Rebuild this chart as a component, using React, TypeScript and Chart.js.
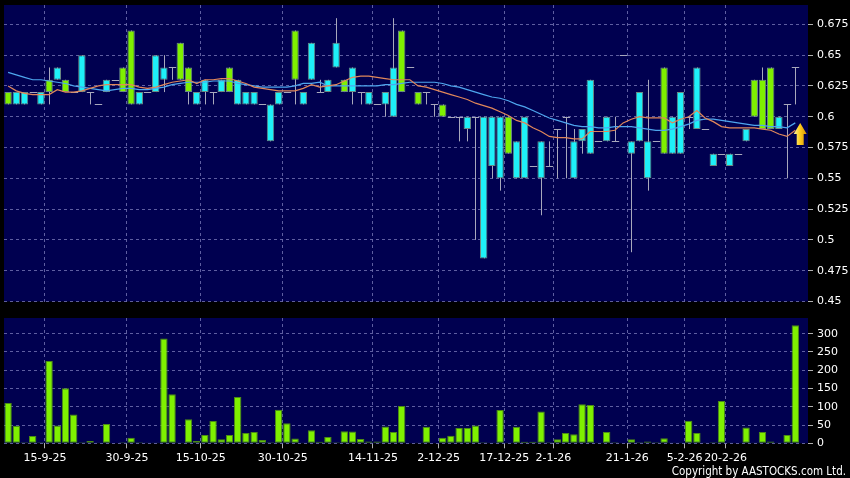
import React, { useEffect, useRef } from "react";
import { Chart, registerables } from "chart.js";

Chart.register(...registerables);

// ---------- data ----------
const opens = [
  0.61, 0.62, 0.62, 0.62, 0.62, 0.62, 0.64, 0.62, 0.62, 0.65,
  0.62, 0.61, 0.63, 0.63, 0.62, 0.61, 0.62, 0.62, 0.65, 0.64,
  0.64, 0.63, 0.62, 0.62, 0.63, 0.62, 0.63, 0.62, 0.63, 0.62,
  0.62, 0.61, 0.61, 0.62, 0.62, 0.63, 0.62, 0.66, 0.62, 0.63,
  0.66, 0.62, 0.64, 0.62, 0.62, 0.61, 0.62, 0.64, 0.62, 0.64,
  0.61, 0.62, 0.61, 0.60, 0.60, 0.60, 0.60, 0.60, 0.60, 0.60,
  0.60, 0.57, 0.58, 0.60, 0.56, 0.58, 0.56, 0.59, 0.60, 0.58,
  0.59, 0.63, 0.58, 0.60, 0.58, 0.65, 0.58, 0.62, 0.58, 0.58,
  0.57, 0.60, 0.62, 0.60, 0.64, 0.59, 0.57, 0.57, 0.57, 0.57,
  0.59, 0.60, 0.59, 0.59, 0.60, 0.61, 0.64,
];
const highs = [
  0.62, 0.62, 0.62, 0.62, 0.62, 0.64, 0.64, 0.63, 0.62, 0.65,
  0.62, 0.61, 0.63, 0.63, 0.64, 0.67, 0.62, 0.62, 0.65, 0.65,
  0.64, 0.66, 0.64, 0.62, 0.63, 0.62, 0.63, 0.64, 0.63, 0.62,
  0.62, 0.61, 0.61, 0.62, 0.62, 0.67, 0.62, 0.66, 0.63, 0.63,
  0.68, 0.63, 0.64, 0.62, 0.62, 0.61, 0.62, 0.68, 0.67, 0.64,
  0.62, 0.62, 0.61, 0.61, 0.60, 0.60, 0.60, 0.60, 0.60, 0.60,
  0.60, 0.60, 0.58, 0.60, 0.56, 0.58, 0.58, 0.59, 0.60, 0.59,
  0.59, 0.63, 0.58, 0.60, 0.60, 0.65, 0.58, 0.62, 0.63, 0.58,
  0.64, 0.60, 0.62, 0.60, 0.64, 0.59, 0.57, 0.57, 0.57, 0.57,
  0.59, 0.63, 0.64, 0.64, 0.60, 0.61, 0.64,
];
const lows = [
  0.61, 0.61, 0.61, 0.62, 0.61, 0.61, 0.63, 0.62, 0.62, 0.62,
  0.61, 0.61, 0.62, 0.63, 0.62, 0.61, 0.61, 0.62, 0.62, 0.62,
  0.63, 0.63, 0.61, 0.61, 0.61, 0.61, 0.62, 0.62, 0.61, 0.61,
  0.61, 0.61, 0.58, 0.61, 0.62, 0.61, 0.61, 0.63, 0.62, 0.62,
  0.64, 0.62, 0.61, 0.61, 0.61, 0.61, 0.60, 0.60, 0.62, 0.64,
  0.61, 0.61, 0.60, 0.60, 0.60, 0.58, 0.58, 0.50, 0.485, 0.55,
  0.54, 0.57, 0.55, 0.55, 0.56, 0.52, 0.56, 0.55, 0.55, 0.55,
  0.57, 0.57, 0.58, 0.58, 0.58, 0.65, 0.49, 0.58, 0.54, 0.58,
  0.57, 0.57, 0.57, 0.59, 0.59, 0.59, 0.56, 0.57, 0.56, 0.57,
  0.58, 0.60, 0.59, 0.59, 0.59, 0.55, 0.61,
];
const closes = [
  0.62, 0.61, 0.61, 0.62, 0.61, 0.63, 0.63, 0.63, 0.62, 0.62,
  0.62, 0.61, 0.62, 0.63, 0.64, 0.67, 0.61, 0.62, 0.62, 0.63,
  0.64, 0.66, 0.64, 0.61, 0.62, 0.62, 0.62, 0.64, 0.61, 0.61,
  0.61, 0.61, 0.58, 0.61, 0.62, 0.67, 0.61, 0.63, 0.62, 0.62,
  0.64, 0.63, 0.62, 0.62, 0.61, 0.61, 0.61, 0.60, 0.67, 0.64,
  0.62, 0.62, 0.61, 0.61, 0.60, 0.60, 0.59, 0.60, 0.485, 0.56,
  0.55, 0.60, 0.55, 0.55, 0.56, 0.55, 0.56, 0.59, 0.60, 0.55,
  0.58, 0.57, 0.58, 0.58, 0.58, 0.65, 0.57, 0.58, 0.55, 0.58,
  0.64, 0.57, 0.57, 0.60, 0.59, 0.59, 0.56, 0.57, 0.56, 0.57,
  0.58, 0.63, 0.63, 0.64, 0.59, 0.61, 0.64,
];
const volumes = [
  110, 48, 3, 20, 3, 225, 49, 151, 79, 3,
  6, 1, 53, 0, 3, 15, 3, 2, 2, 287,
  134, 2, 66, 6, 23, 61, 11, 23, 127, 28,
  31, 9, 3, 92, 55, 13, 2, 36, 4, 17,
  3, 33, 32, 12, 5, 5, 46, 31, 102, 0,
  2, 45, 0, 15, 21, 42, 42, 49, 3, 2,
  91, 1, 45, 4, 4, 87, 3, 11, 28, 25,
  107, 105, 2, 31, 3, 0, 11, 3, 5, 3,
  14, 2, 2, 62, 28, 1, 3, 116, 1, 0,
  43, 2, 31, 5, 1, 23, 323,
];
// moving averages (orange = short, blue = long)
const maShort = [
  0.625, 0.621, 0.619, 0.618, 0.618, 0.618, 0.622, 0.620, 0.620, 0.621,
  0.623, 0.625, 0.626, 0.626, 0.626, 0.626, 0.624, 0.623, 0.624, 0.626,
  0.628, 0.629, 0.630, 0.627, 0.630, 0.630, 0.631, 0.631, 0.629, 0.627,
  0.624, 0.623, 0.622, 0.621, 0.621, 0.621, 0.623, 0.626, 0.624, 0.625,
  0.626, 0.629, 0.632, 0.633, 0.633, 0.632, 0.631, 0.630, 0.630, 0.630,
  0.625, 0.624, 0.622, 0.620, 0.618, 0.616, 0.614, 0.611, 0.609, 0.607,
  0.604, 0.601, 0.597, 0.595, 0.591, 0.588, 0.584, 0.583, 0.583, 0.582,
  0.582, 0.588, 0.588, 0.588, 0.589, 0.595, 0.598, 0.600, 0.599, 0.599,
  0.599, 0.595, 0.598, 0.600, 0.605, 0.599, 0.596, 0.592, 0.591, 0.591,
  0.591, 0.591, 0.590, 0.589, 0.586, 0.584, 0.589,
];
const maLong = [
  0.636, 0.634, 0.632, 0.630, 0.630, 0.629, 0.628, 0.627, 0.625, 0.624,
  0.623, 0.622, 0.621, 0.622, 0.623, 0.623, 0.622, 0.622, 0.623, 0.624,
  0.626, 0.627, 0.628, 0.628, 0.628, 0.629, 0.629, 0.629, 0.627, 0.626,
  0.625, 0.624, 0.624, 0.624, 0.624, 0.625, 0.627, 0.627, 0.628, 0.625,
  0.625, 0.625, 0.625, 0.625, 0.625, 0.625, 0.626, 0.626, 0.627, 0.628,
  0.628, 0.628, 0.628, 0.627, 0.625, 0.624, 0.622, 0.620, 0.618, 0.616,
  0.615, 0.613, 0.610, 0.608, 0.605, 0.602, 0.599, 0.597, 0.595, 0.593,
  0.592, 0.592, 0.591, 0.591, 0.592, 0.592, 0.592, 0.591, 0.590, 0.589,
  0.589, 0.590, 0.592, 0.594, 0.597, 0.598, 0.598, 0.597, 0.596, 0.595,
  0.594, 0.593, 0.593, 0.592, 0.592, 0.591, 0.595,
];
const dateLabels = [
  "15-9-25", "30-9-25", "15-10-25", "30-10-25", "14-11-25", "2-12-25",
  "17-12-25", "2-1-26", "21-1-26", "5-2-26", "20-2-26",
];
const dateTickPos = [4.5, 14.5, 23.5, 33.5, 44.5, 52.5, 60.5, 66.5, 75.5, 82.5, 87.5];
const priceTicks = [0.45, 0.475, 0.5, 0.525, 0.55, 0.575, 0.6, 0.625, 0.65, 0.675];
const volumeTicks = [0, 50, 100, 150, 200, 250, 300];
const arrowIndex = 96.6;
const arrowPrice = 0.595;

// ---------- styles ----------
const NAVY = "#000050";
const GREEN = "#7ff000";
const CYAN = "#1ef0f8";
const BODY_BORDER = "#6a8a84";
const WICK = "#a8a8bc";
const GRID = "rgba(110,110,175,0.85)";
const FONT = "DejaVu Sans";

Chart.defaults.font.family = FONT;
Chart.defaults.font.size = 11;
Chart.defaults.color = "#ffffff";

const bgPlugin = {
  id: "navyBg",
  beforeDraw(chart: any) {
    const { ctx, chartArea: a } = chart;
    ctx.save();
    ctx.fillStyle = NAVY;
    ctx.fillRect(a.left, a.top, a.right - a.left, a.bottom - a.top);
    ctx.restore();
  },
};

const candlePlugin = {
  id: "candleWicks",
  beforeDatasetsDraw(chart: any) {
    const { ctx, chartArea: a, scales } = chart;
    const x = scales.x;
    const y = scales.y;
    const half = (x.getPixelForValue(1) - x.getPixelForValue(0)) * 0.45;
    ctx.save();
    ctx.beginPath();
    ctx.rect(a.left, a.top, a.right - a.left, a.bottom - a.top);
    ctx.clip();
    ctx.strokeStyle = WICK;
    ctx.lineWidth = 1;
    for (let i = 0; i < opens.length; i++) {
      const px = Math.round(x.getPixelForValue(i)) + 0.5;
      if (highs[i] > lows[i]) {
        ctx.beginPath();
        ctx.moveTo(px, y.getPixelForValue(highs[i]));
        ctx.lineTo(px, y.getPixelForValue(lows[i]));
        ctx.stroke();
      }
      if (opens[i] === closes[i]) {
        const py = Math.round(y.getPixelForValue(opens[i])) + 0.5;
        ctx.beginPath();
        ctx.moveTo(px - half, py);
        ctx.lineTo(px + half, py);
        ctx.stroke();
      }
    }
    ctx.restore();
  },
  afterDatasetsDraw(chart: any) {
    const { ctx, scales } = chart;
    const px = scales.x.getPixelForValue(arrowIndex);
    const py = scales.y.getPixelForValue(arrowPrice);
    const hw = 6.5, sw = 3.5, headH = 11, totalH = 22;
    const g = ctx.createLinearGradient(px - hw, 0, px + hw, 0);
    g.addColorStop(0, "#fff2a0");
    g.addColorStop(0.45, "#ffd020");
    g.addColorStop(1, "#d89000");
    ctx.save();
    ctx.beginPath();
    ctx.moveTo(px, py);
    ctx.lineTo(px + hw, py + headH);
    ctx.lineTo(px + sw, py + headH);
    ctx.lineTo(px + sw, py + totalH);
    ctx.lineTo(px - sw, py + totalH);
    ctx.lineTo(px - sw, py + headH);
    ctx.lineTo(px - hw, py + headH);
    ctx.closePath();
    ctx.fillStyle = g;
    ctx.fill();
    ctx.restore();
  },
};

const xBase = (showLabels: boolean, height: number): any => ({
  type: "linear",
  min: -0.5,
  max: 97.55,
  offset: false,
  afterBuildTicks: (s: any) => {
    s.ticks = dateTickPos.map((v) => ({ value: v }));
  },
  afterFit: (s: any) => {
    s.height = height;
    s.paddingLeft = 0;
    s.paddingRight = 0;
  },
  ticks: {
    display: showLabels,
    autoSkip: false,
    maxRotation: 0,
    minRotation: 0,
    padding: 3,
    color: "#ffffff",
    font: { family: FONT, size: 11 },
    callback: (_v: any, idx: number) => dateLabels[idx],
  },
  grid: {
    color: GRID,
    offset: false,
    drawTicks: showLabels,
    tickLength: 5,
    tickColor: "#b0b0b0",
    tickBorderDash: [],
    borderDash: [3, 3],
  },
  border: { display: false, dash: [3, 3] },
});

const yBase = (ticks: number[], min: number, max: number): any => ({
  position: "right",
  min,
  max,
  afterBuildTicks: (s: any) => {
    s.ticks = ticks.map((v) => ({ value: v }));
  },
  afterFit: (s: any) => {
    s.width = 42;
    s.paddingTop = 0;
    s.paddingBottom = 0;
  },
  ticks: {
    padding: 4,
    color: "#ffffff",
    font: { family: FONT, size: 11 },
    callback: (v: any) => String(v),
  },
  grid: {
    color: GRID,
    drawTicks: true,
    tickLength: 5,
    tickColor: "#b0b0b0",
    tickBorderDash: [],
    borderDash: [3, 3],
  },
  border: { display: false, dash: [3, 3] },
});

export default function App() {
  const topRef = useRef<HTMLCanvasElement>(null);
  const volRef = useRef<HTMLCanvasElement>(null);

  useEffect(() => {
    const bodies = opens
      .map((o, i) => ({
        x: i,
        y: [Math.min(o, closes[i]), Math.max(o, closes[i])],
        up: closes[i] > o,
        doji: closes[i] === o,
      }))
      .filter((d) => !d.doji);

    const c1 = new Chart(topRef.current as HTMLCanvasElement, {
      type: "bar",
      data: {
        datasets: [
          {
            type: "line",
            data: maShort.map((v, i) => ({ x: i, y: v })),
            borderColor: "#e0875a",
            borderWidth: 1.2,
            pointRadius: 0,
            tension: 0,
            order: 1,
          } as any,
          {
            type: "line",
            data: maLong.map((v, i) => ({ x: i, y: v })),
            borderColor: "#4ea6ee",
            borderWidth: 1.2,
            pointRadius: 0,
            tension: 0,
            order: 1,
          } as any,
          {
            type: "bar",
            data: bodies as any,
            backgroundColor: (ctx: any) => (ctx.raw && ctx.raw.up ? GREEN : CYAN),
            borderColor: BODY_BORDER,
            borderWidth: 1,
            borderSkipped: false,
            categoryPercentage: 1,
            barPercentage: 0.9,
            order: 2,
          } as any,
        ],
      },
      options: {
        responsive: false,
        animation: false,
        devicePixelRatio: 1,
        events: [],
        layout: { padding: { left: 4, top: 5, right: 0, bottom: 0 } },
        plugins: { legend: { display: false }, tooltip: { enabled: false } },
        scales: {
          x: xBase(false, 9.5),
          y: yBase(priceTicks, 0.45, 0.6907),
        },
      } as any,
      plugins: [bgPlugin, candlePlugin],
    });

    const c2 = new Chart(volRef.current as HTMLCanvasElement, {
      type: "bar",
      data: {
        datasets: [
          {
            data: volumes.map((v, i) => ({ x: i, y: v })),
            backgroundColor: GREEN,
            borderColor: "#4c8c14",
            borderWidth: 1,
            borderSkipped: false,
            categoryPercentage: 1,
            barPercentage: 0.9,
          } as any,
        ],
      },
      options: {
        responsive: false,
        animation: false,
        devicePixelRatio: 1,
        events: [],
        layout: { padding: { left: 4, top: 7, right: 0, bottom: 0 } },
        plugins: { legend: { display: false }, tooltip: { enabled: false } },
        scales: {
          x: xBase(true, 34.7),
          y: yBase(volumeTicks, 0, 343),
        },
      } as any,
      plugins: [bgPlugin],
    });

    return () => {
      c1.destroy();
      c2.destroy();
    };
  }, []);

  return (
    <div
      style={{
        position: "fixed",
        left: 0,
        top: 0,
        width: 850,
        height: 478,
        background: "#000000",
        overflow: "hidden",
      }}
    >
      <canvas ref={topRef} width={850} height={311} style={{ position: "absolute", left: 0, top: 0 }} />
      <canvas ref={volRef} width={850} height={167} style={{ position: "absolute", left: 0, top: 311 }} />
      <div
        style={{
          position: "absolute",
          right: 4,
          top: 464,
          color: "#ffffff",
          fontFamily: '"DejaVu Sans Condensed", "DejaVu Sans", sans-serif',
          fontSize: 11.5,
          lineHeight: "14px",
          whiteSpace: "nowrap",
        }}
      >
        Copyright by AASTOCKS.com Ltd.
      </div>
    </div>
  );
}
